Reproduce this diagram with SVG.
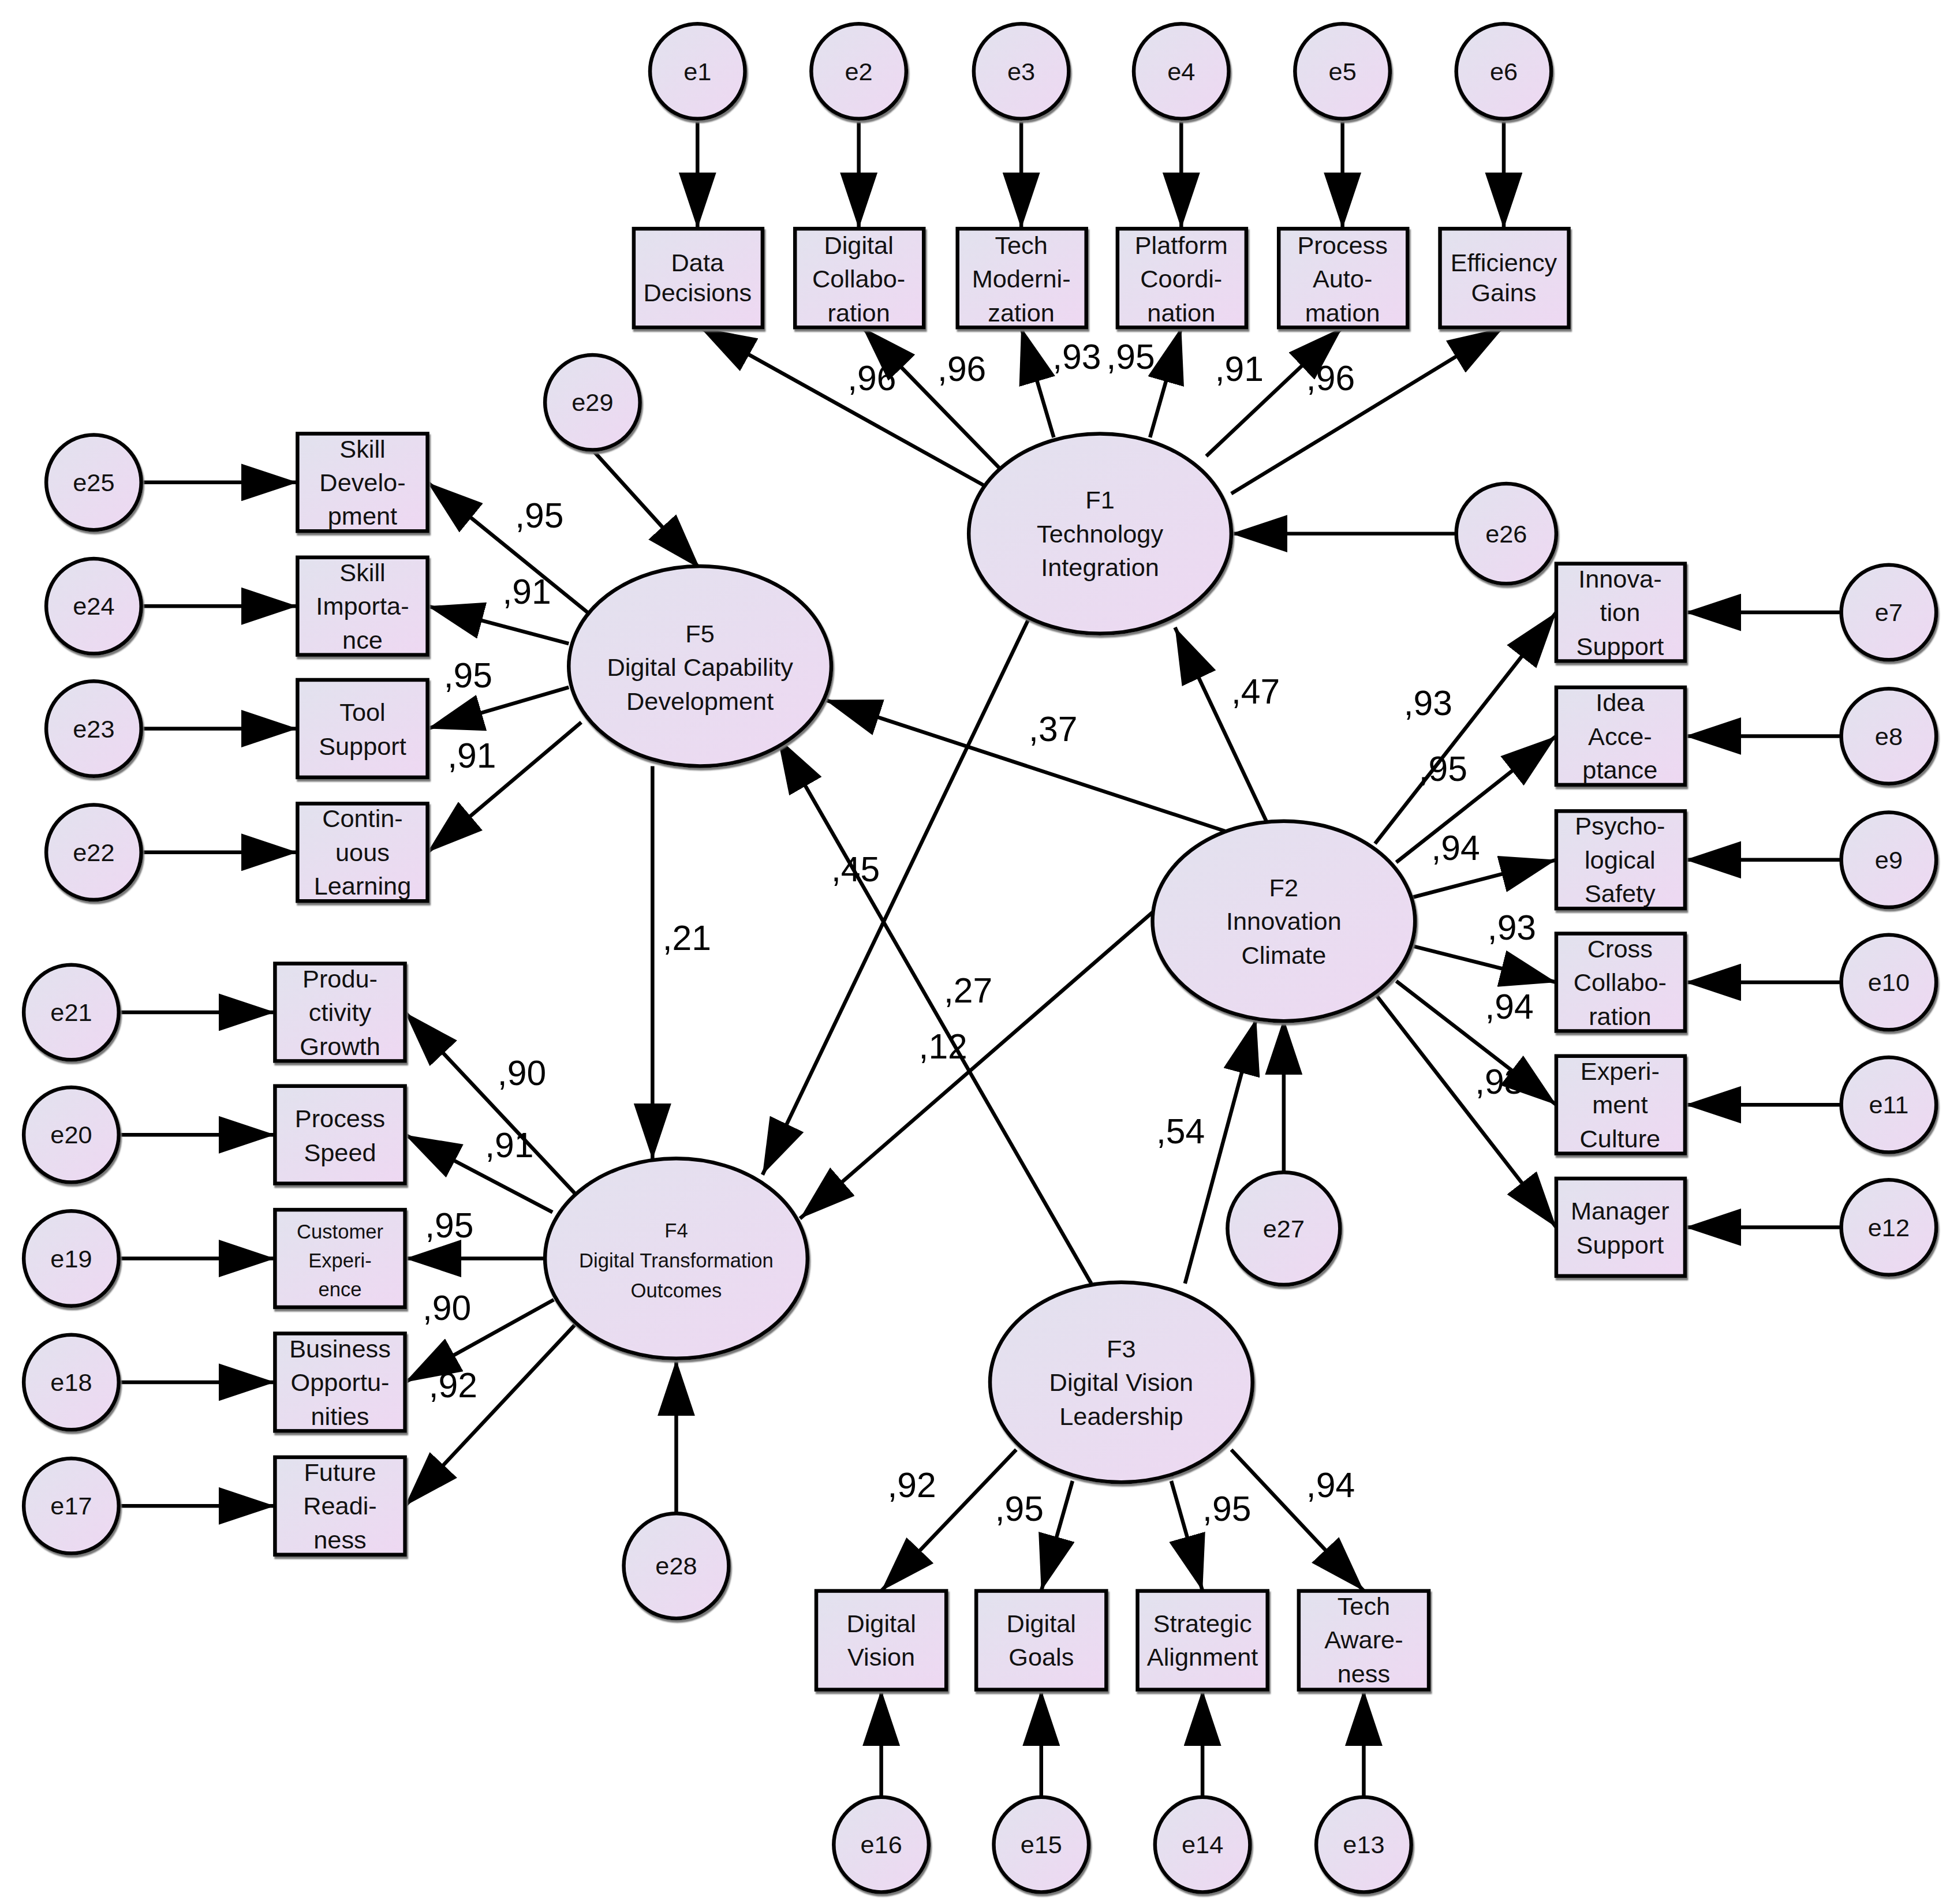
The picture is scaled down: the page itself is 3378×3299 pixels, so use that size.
<svg xmlns="http://www.w3.org/2000/svg" width="3378" height="3299" viewBox="0 0 3378 3299">
<defs>
<linearGradient id="g" x1="0" y1="0" x2="1" y2="1"><stop offset="0" stop-color="#e2e2ee"/><stop offset="1" stop-color="#eed8f2"/></linearGradient>
<marker id="a" markerUnits="strokeWidth" markerWidth="15" markerHeight="10" refX="15" refY="5" orient="auto"><path d="M0,0 L15,5 L0,10 Z" fill="#000"/></marker>
<filter id="sh" x="-10%" y="-10%" width="130%" height="130%"><feDropShadow dx="1" dy="2" stdDeviation="0.5" flood-color="#777"/></filter>
</defs>
<style>
.n{fill:url(#g);stroke:#000;stroke-width:3;filter:url(#sh)}
.t{font-family:"Liberation Sans",Arial,sans-serif;font-size:20px;text-anchor:middle;fill:#111}
.s{font-size:16px}
.c{font-family:"Liberation Sans",Arial,sans-serif;font-size:28px;fill:#000}
#conn line{stroke:#000;stroke-width:3;marker-end:url(#a)}
</style>
<rect width="3378" height="3299" fill="#fff"/>
<g transform="scale(2.1654)">
<g id="conn">
<line x1="558" y1="95" x2="558" y2="183"/><line x1="687" y1="95" x2="687" y2="183"/><line x1="817" y1="95" x2="817" y2="183"/><line x1="945" y1="95" x2="945" y2="183"/><line x1="1074" y1="95" x2="1074" y2="183"/><line x1="1203" y1="95" x2="1203" y2="183"/>
<line x1="790" y1="390" x2="560" y2="262"/><line x1="800" y1="375" x2="690" y2="262"/><line x1="843" y1="350" x2="817" y2="262"/><line x1="920" y1="350" x2="945" y2="262"/><line x1="965" y1="365" x2="1074" y2="262"/><line x1="985" y1="395" x2="1203" y2="262"/>
<line x1="1165" y1="427" x2="985" y2="427"/>
<line x1="474" y1="360" x2="560" y2="455"/>
<line x1="470" y1="490" x2="342" y2="386"/><line x1="455" y1="515" x2="342" y2="485"/><line x1="455" y1="550" x2="342" y2="583"/><line x1="465" y1="578" x2="342" y2="682"/>
<line x1="113" y1="386" x2="238" y2="386"/><line x1="113" y1="485" x2="238" y2="485"/><line x1="113" y1="583" x2="238" y2="583"/><line x1="113" y1="682" x2="238" y2="682"/>
<line x1="1013" y1="657" x2="940" y2="502"/>
<line x1="980" y1="665" x2="660" y2="560"/>
<line x1="823" y1="495" x2="610" y2="940"/>
<line x1="922" y1="730" x2="640" y2="975"/>
<line x1="522" y1="613" x2="522" y2="928"/>
<line x1="873" y1="1027" x2="622" y2="590"/>
<line x1="948" y1="1027" x2="1005" y2="815"/>
<line x1="1027" y1="938" x2="1027" y2="815"/>
<line x1="1100" y1="675" x2="1245" y2="490"/><line x1="1117" y1="690" x2="1245" y2="589"/><line x1="1130" y1="718" x2="1245" y2="688"/><line x1="1130" y1="757" x2="1245" y2="786"/><line x1="1117" y1="785" x2="1245" y2="884"/><line x1="1100" y1="795" x2="1245" y2="982"/>
<line x1="1473" y1="490" x2="1348" y2="490"/><line x1="1473" y1="589" x2="1348" y2="589"/><line x1="1473" y1="688" x2="1348" y2="688"/><line x1="1473" y1="786" x2="1348" y2="786"/><line x1="1473" y1="884" x2="1348" y2="884"/><line x1="1473" y1="982" x2="1348" y2="982"/>
<line x1="460" y1="955" x2="324" y2="810"/><line x1="442" y1="970" x2="324" y2="908"/><line x1="435" y1="1007" x2="324" y2="1007"/><line x1="443" y1="1040" x2="324" y2="1106"/><line x1="460" y1="1060" x2="324" y2="1205"/>
<line x1="95" y1="810" x2="220" y2="810"/><line x1="95" y1="908" x2="220" y2="908"/><line x1="95" y1="1007" x2="220" y2="1007"/><line x1="95" y1="1106" x2="220" y2="1106"/><line x1="95" y1="1205" x2="220" y2="1205"/>
<line x1="541" y1="1212" x2="541" y2="1088"/>
<line x1="813" y1="1160" x2="705" y2="1273"/><line x1="858" y1="1185" x2="833" y2="1273"/><line x1="937" y1="1185" x2="962" y2="1273"/><line x1="985" y1="1160" x2="1091" y2="1273"/>
<line x1="705" y1="1438" x2="705" y2="1352"/><line x1="833" y1="1438" x2="833" y2="1352"/><line x1="962" y1="1438" x2="962" y2="1352"/><line x1="1091" y1="1438" x2="1091" y2="1352"/>
</g>
<g id="labels" class="c">
<text x="678" y="312">,96</text><text x="750" y="305">,96</text><text x="842" y="295">,93</text><text x="885" y="295">,95</text><text x="972" y="305">,91</text><text x="1045" y="312">,96</text>
<text x="412" y="422">,95</text><text x="402" y="483">,91</text><text x="355" y="550">,95</text><text x="358" y="614">,91</text>
<text x="985" y="563">,47</text><text x="823" y="593">,37</text><text x="665" y="705">,45</text><text x="530" y="760">,21</text><text x="755" y="802">,27</text><text x="735" y="847">,12</text><text x="925" y="915">,54</text>
<text x="1123" y="572">,93</text><text x="1135" y="625">,95</text><text x="1145" y="688">,94</text><text x="1190" y="752">,93</text><text x="1188" y="815">,94</text><text x="1180" y="875">,93</text>
<text x="398" y="868">,90</text><text x="388" y="926">,91</text><text x="340" y="990">,95</text><text x="338" y="1056">,90</text><text x="343" y="1118">,92</text>
<text x="710" y="1198">,92</text><text x="796" y="1217">,95</text><text x="962" y="1217">,95</text><text x="1045" y="1198">,94</text>
</g>
<g id="e1"><circle class="n" cx="558" cy="57" r="38"/><text class="t" x="558" y="64">e1</text></g>
<g id="e2"><circle class="n" cx="687" cy="57" r="38"/><text class="t" x="687" y="64">e2</text></g>
<g id="e3"><circle class="n" cx="817" cy="57" r="38"/><text class="t" x="817" y="64">e3</text></g>
<g id="e4"><circle class="n" cx="945" cy="57" r="38"/><text class="t" x="945" y="64">e4</text></g>
<g id="e5"><circle class="n" cx="1074" cy="57" r="38"/><text class="t" x="1074" y="64">e5</text></g>
<g id="e6"><circle class="n" cx="1203" cy="57" r="38"/><text class="t" x="1203" y="64">e6</text></g>
<g id="v1"><rect class="n" x="507" y="183" width="103" height="79"/><text class="t" x="558" y="217">Data<tspan x="558" dy="24">Decisions</tspan></text></g>
<g id="v2"><rect class="n" x="636" y="183" width="103" height="79"/><text class="t" x="687" y="203">Digital<tspan x="687" dy="27">Collabo-</tspan><tspan x="687" dy="27">ration</tspan></text></g>
<g id="v3"><rect class="n" x="766" y="183" width="103" height="79"/><text class="t" x="817" y="203">Tech<tspan x="817" dy="27">Moderni-</tspan><tspan x="817" dy="27">zation</tspan></text></g>
<g id="v4"><rect class="n" x="894" y="183" width="103" height="79"/><text class="t" x="945" y="203">Platform<tspan x="945" dy="27">Coordi-</tspan><tspan x="945" dy="27">nation</tspan></text></g>
<g id="v5"><rect class="n" x="1023" y="183" width="103" height="79"/><text class="t" x="1074" y="203">Process<tspan x="1074" dy="27">Auto-</tspan><tspan x="1074" dy="27">mation</tspan></text></g>
<g id="v6"><rect class="n" x="1152" y="183" width="103" height="79"/><text class="t" x="1203" y="217">Efficiency<tspan x="1203" dy="24">Gains</tspan></text></g>
<g id="F1"><ellipse class="n" cx="880" cy="427" rx="105" ry="80"/><text class="t" x="880" y="407">F1<tspan x="880" dy="27">Technology</tspan><tspan x="880" dy="27">Integration</tspan></text></g>
<g id="e26"><circle class="n" cx="1205" cy="427" r="40"/><text class="t" x="1205" y="434">e26</text></g>
<g id="e29"><circle class="n" cx="474" cy="322" r="38"/><text class="t" x="474" y="329">e29</text></g>
<g id="F5"><ellipse class="n" cx="560" cy="533" rx="105" ry="80"/><text class="t" x="560" y="514">F5<tspan x="560" dy="27">Digital Capability</tspan><tspan x="560" dy="27">Development</tspan></text></g>
<g id="v25"><rect class="n" x="238" y="347" width="104" height="78"/><text class="t" x="290" y="366">Skill<tspan x="290" dy="27">Develo-</tspan><tspan x="290" dy="27">pment</tspan></text></g>
<g id="v24"><rect class="n" x="238" y="446" width="104" height="78"/><text class="t" x="290" y="465">Skill<tspan x="290" dy="27">Importa-</tspan><tspan x="290" dy="27">nce</tspan></text></g>
<g id="v23"><rect class="n" x="238" y="544" width="104" height="78"/><text class="t" x="290" y="577">Tool<tspan x="290" dy="27">Support</tspan></text></g>
<g id="v22"><rect class="n" x="238" y="643" width="104" height="78"/><text class="t" x="290" y="662">Contin-<tspan x="290" dy="27">uous</tspan><tspan x="290" dy="27">Learning</tspan></text></g>
<g id="e25"><circle class="n" cx="75" cy="386" r="38"/><text class="t" x="75" y="393">e25</text></g>
<g id="e24"><circle class="n" cx="75" cy="485" r="38"/><text class="t" x="75" y="492">e24</text></g>
<g id="e23"><circle class="n" cx="75" cy="583" r="38"/><text class="t" x="75" y="590">e23</text></g>
<g id="e22"><circle class="n" cx="75" cy="682" r="38"/><text class="t" x="75" y="689">e22</text></g>
<g id="F2"><ellipse class="n" cx="1027" cy="737" rx="105" ry="80"/><text class="t" x="1027" y="717">F2<tspan x="1027" dy="27">Innovation</tspan><tspan x="1027" dy="27">Climate</tspan></text></g>
<g id="v7"><rect class="n" x="1245" y="451" width="103" height="78"/><text class="t" x="1296" y="470">Innova-<tspan x="1296" dy="27">tion</tspan><tspan x="1296" dy="27">Support</tspan></text></g>
<g id="v8"><rect class="n" x="1245" y="550" width="103" height="78"/><text class="t" x="1296" y="569">Idea<tspan x="1296" dy="27">Acce-</tspan><tspan x="1296" dy="27">ptance</tspan></text></g>
<g id="v9"><rect class="n" x="1245" y="649" width="103" height="78"/><text class="t" x="1296" y="668">Psycho-<tspan x="1296" dy="27">logical</tspan><tspan x="1296" dy="27">Safety</tspan></text></g>
<g id="v10"><rect class="n" x="1245" y="747" width="103" height="78"/><text class="t" x="1296" y="766">Cross<tspan x="1296" dy="27">Collabo-</tspan><tspan x="1296" dy="27">ration</tspan></text></g>
<g id="v11"><rect class="n" x="1245" y="845" width="103" height="78"/><text class="t" x="1296" y="864">Experi-<tspan x="1296" dy="27">ment</tspan><tspan x="1296" dy="27">Culture</tspan></text></g>
<g id="v12"><rect class="n" x="1245" y="943" width="103" height="78"/><text class="t" x="1296" y="976">Manager<tspan x="1296" dy="27">Support</tspan></text></g>
<g id="e7"><circle class="n" cx="1511" cy="490" r="38"/><text class="t" x="1511" y="497">e7</text></g>
<g id="e8"><circle class="n" cx="1511" cy="589" r="38"/><text class="t" x="1511" y="596">e8</text></g>
<g id="e9"><circle class="n" cx="1511" cy="688" r="38"/><text class="t" x="1511" y="695">e9</text></g>
<g id="e10"><circle class="n" cx="1511" cy="786" r="38"/><text class="t" x="1511" y="793">e10</text></g>
<g id="e11"><circle class="n" cx="1511" cy="884" r="38"/><text class="t" x="1511" y="891">e11</text></g>
<g id="e12"><circle class="n" cx="1511" cy="982" r="38"/><text class="t" x="1511" y="989">e12</text></g>
<g id="e27"><circle class="n" cx="1027" cy="983" r="45"/><text class="t" x="1027" y="990">e27</text></g>
<g id="F4"><ellipse class="n" cx="541" cy="1007" rx="105" ry="80"/><text class="t s" x="541" y="990">F4<tspan x="541" dy="24">Digital Transformation</tspan><tspan x="541" dy="24">Outcomes</tspan></text></g>
<g id="v21"><rect class="n" x="220" y="771" width="104" height="78"/><text class="t" x="272" y="790">Produ-<tspan x="272" dy="27">ctivity</tspan><tspan x="272" dy="27">Growth</tspan></text></g>
<g id="v20"><rect class="n" x="220" y="869" width="104" height="78"/><text class="t" x="272" y="902">Process<tspan x="272" dy="27">Speed</tspan></text></g>
<g id="v19"><rect class="n" x="220" y="968" width="104" height="78"/><text class="t s" x="272" y="991">Customer<tspan x="272" dy="23">Experi-</tspan><tspan x="272" dy="23">ence</tspan></text></g>
<g id="v18"><rect class="n" x="220" y="1067" width="104" height="78"/><text class="t" x="272" y="1086">Business<tspan x="272" dy="27">Opportu-</tspan><tspan x="272" dy="27">nities</tspan></text></g>
<g id="v17"><rect class="n" x="220" y="1166" width="104" height="78"/><text class="t" x="272" y="1185">Future<tspan x="272" dy="27">Readi-</tspan><tspan x="272" dy="27">ness</tspan></text></g>
<g id="e21"><circle class="n" cx="57" cy="810" r="38"/><text class="t" x="57" y="817">e21</text></g>
<g id="e20"><circle class="n" cx="57" cy="908" r="38"/><text class="t" x="57" y="915">e20</text></g>
<g id="e19"><circle class="n" cx="57" cy="1007" r="38"/><text class="t" x="57" y="1014">e19</text></g>
<g id="e18"><circle class="n" cx="57" cy="1106" r="38"/><text class="t" x="57" y="1113">e18</text></g>
<g id="e17"><circle class="n" cx="57" cy="1205" r="38"/><text class="t" x="57" y="1212">e17</text></g>
<g id="e28"><circle class="n" cx="541" cy="1253" r="42"/><text class="t" x="541" y="1260">e28</text></g>
<g id="F3"><ellipse class="n" cx="897" cy="1106" rx="105" ry="80"/><text class="t" x="897" y="1086">F3<tspan x="897" dy="27">Digital Vision</tspan><tspan x="897" dy="27">Leadership</tspan></text></g>
<g id="v16"><rect class="n" x="653" y="1273" width="104" height="79"/><text class="t" x="705" y="1306">Digital<tspan x="705" dy="27">Vision</tspan></text></g>
<g id="v15"><rect class="n" x="781" y="1273" width="104" height="79"/><text class="t" x="833" y="1306">Digital<tspan x="833" dy="27">Goals</tspan></text></g>
<g id="v14"><rect class="n" x="910" y="1273" width="104" height="79"/><text class="t" x="962" y="1306">Strategic<tspan x="962" dy="27">Alignment</tspan></text></g>
<g id="v13"><rect class="n" x="1039" y="1273" width="104" height="79"/><text class="t" x="1091" y="1292">Tech<tspan x="1091" dy="27">Aware-</tspan><tspan x="1091" dy="27">ness</tspan></text></g>
<g id="e16"><circle class="n" cx="705" cy="1476" r="38"/><text class="t" x="705" y="1483">e16</text></g>
<g id="e15"><circle class="n" cx="833" cy="1476" r="38"/><text class="t" x="833" y="1483">e15</text></g>
<g id="e14"><circle class="n" cx="962" cy="1476" r="38"/><text class="t" x="962" y="1483">e14</text></g>
<g id="e13"><circle class="n" cx="1091" cy="1476" r="38"/><text class="t" x="1091" y="1483">e13</text></g>
</g>
</svg>
